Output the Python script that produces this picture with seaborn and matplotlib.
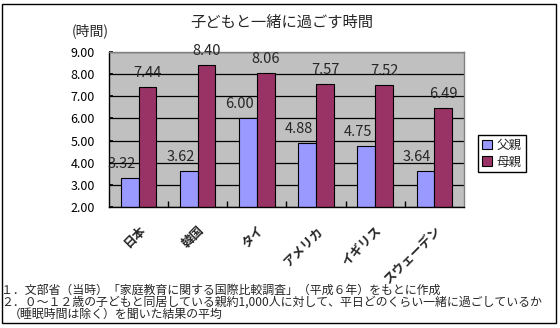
import matplotlib
matplotlib.use('Agg')
import matplotlib.pyplot as plt
import seaborn as sns
import pandas as pd
from matplotlib.patches import Rectangle

countries = ['日本', '韓国', 'タイ', 'アメリカ', 'イギリス', 'スウェーデン']
father = [3.32, 3.62, 6.00, 4.88, 4.75, 3.64]
mother = [7.44, 8.40, 8.06, 7.57, 7.52, 6.49]
series = ['父親', '母親']
yticks = [2, 3, 4, 5, 6, 7, 8, 9]
title = '子どもと一緒に過ごす時間'
unit = '(時間)'
notes = ['１．文部省（当時）「家庭教育に関する国際比較調査」（平成６年）をもとに作成',
         '２．０～１２歳の子どもと同居している親約1,000人に対して、平日どのくらい一緒に過ごしているか',
         '（睡眠時間は除く）を聞いた結果の平均']

df = pd.DataFrame({
    '国': countries * 2,
    '時間': father + mother,
    '親': [series[0]] * len(father) + [series[1]] * len(mother),
})

sns.set_theme(style='white')
plt.rcParams['font.family'] = ['Noto Sans CJK JP', 'DejaVu Sans']

fig = plt.figure(figsize=(5.6, 3.28), dpi=100)
W, H = 560, 328
ax = fig.add_axes([109 / W, 1 - 207 / H, (464 - 109) / W, (207 - 52) / H])
ax.set_facecolor('#C0C0C0')

sns.barplot(data=df, x='国', y='時間', hue='親', palette=['#9999FF', '#993366'],
            width=0.6, saturation=1, edgecolor='black', linewidth=0.8, ax=ax)

ax.set_ylim(yticks[0], yticks[-1])
ax.set_xlim(-0.5, len(countries) - 0.5)
ax.set_yticks(yticks)
ax.set_yticklabels([f'{v:.2f}' for v in yticks], fontsize=9)
ax.yaxis.grid(True, color='black', linewidth=0.9)
ax.set_axisbelow(True)
ax.set_xlabel('')
ax.set_ylabel('')

for s in ['left', 'bottom']:
    ax.spines[s].set_color('black')
    ax.spines[s].set_linewidth(1)
for s in ['top', 'right']:
    ax.spines[s].set_color('#808080')
    ax.spines[s].set_linewidth(1)

ax.tick_params(axis='y', direction='in', length=3, pad=10, colors='black', left=True)
ax.set_xticks(range(len(countries)))
ax.set_xticklabels(countries, rotation=45, ha='right', va='top', rotation_mode='anchor',
                   fontsize=9, fontweight='bold')
ax.tick_params(axis='x', which='major', length=0, pad=12)
ax.set_xticks([i + 0.5 for i in range(len(countries) - 1)], minor=True)
ax.tick_params(axis='x', which='minor', direction='in', length=4, width=1, color='black', bottom=True)

offsets = [-6, 0]
for i, cont in enumerate(ax.containers):
    for bar in cont:
        h = bar.get_height()
        ax.annotate(f'{h:.2f}', (bar.get_x() + bar.get_width() / 2, h),
                    xytext=(offsets[i], 5), textcoords='offset points',
                    ha='center', va='bottom', fontsize=10.5, annotation_clip=False)

handles, labels = ax.get_legend_handles_labels()
leg = ax.legend(handles, labels, loc='upper left', bbox_to_anchor=(478 / W, 1 - 135 / H),
                bbox_transform=fig.transFigure, frameon=True, fancybox=False,
                edgecolor='black', framealpha=1, borderaxespad=0, fontsize=9,
                handlelength=0.8, handleheight=0.8, handletextpad=0.4,
                borderpad=0.3, labelspacing=0.3)
leg.get_frame().set_linewidth(1)

fig.text(282 / W, 1 - 22 / H, title, ha='center', va='center', fontsize=11)
fig.text(90 / W, 1 - 31 / H, unit, ha='center', va='center', fontsize=10)

fig.text(1 / W, 1 - 290 / H, notes[0], ha='left', va='center', fontsize=8.6)
fig.text(1 / W, 1 - 302 / H, notes[1], ha='left', va='center', fontsize=8.6)
fig.text(9 / W, 1 - 314 / H, notes[2], ha='left', va='center', fontsize=8.6)

fig.add_artist(Rectangle((2 / W, 1 - 323 / H), (556 - 2) / W, (323 - 4) / H,
                         transform=fig.transFigure, fill=False, lw=1, ec='black'))

fig.savefig('out.png', dpi=100)
